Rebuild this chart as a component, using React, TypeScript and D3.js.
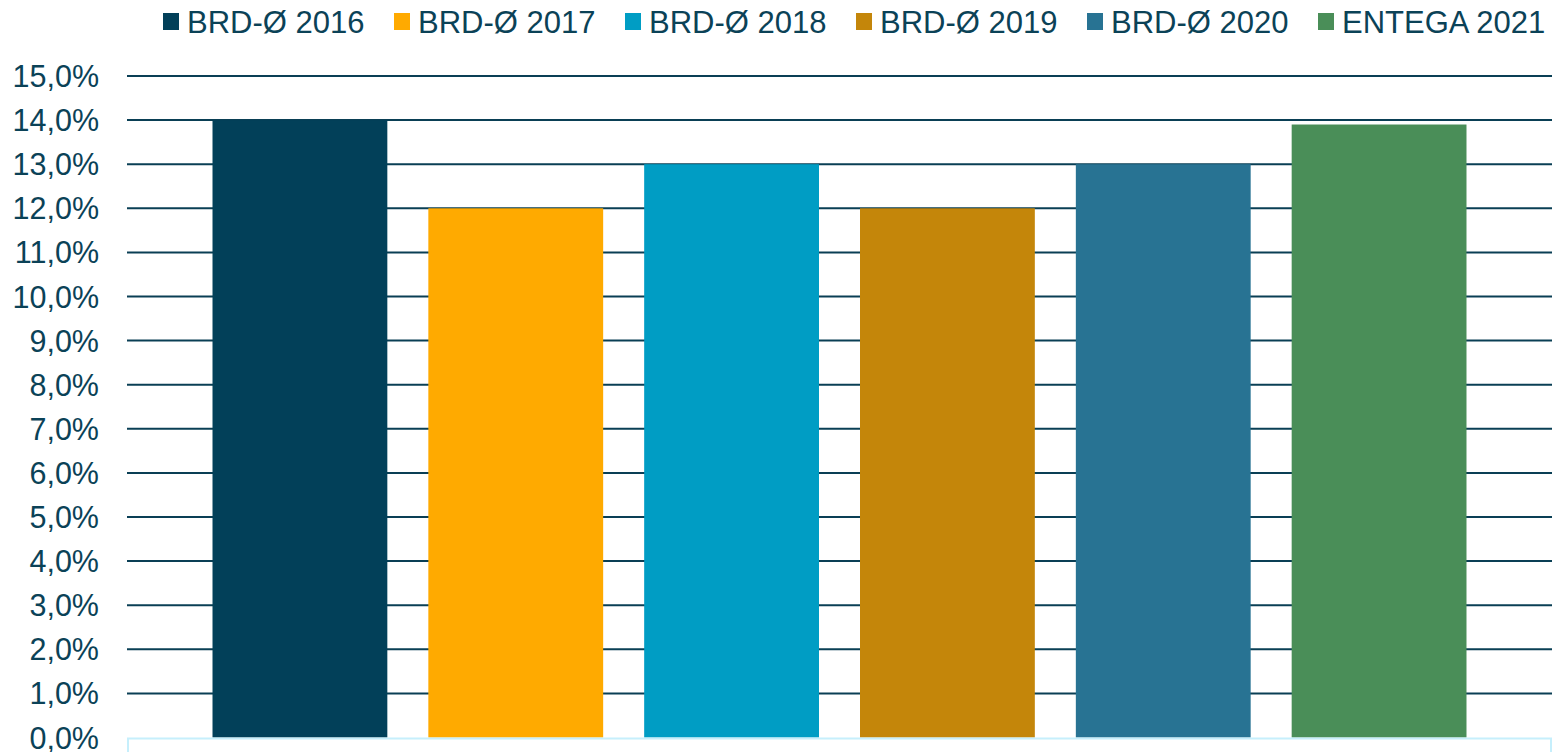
import React from "react";
import * as d3 from "d3";

const seriesNames = ["BRD-Ø 2016", "BRD-Ø 2017", "BRD-Ø 2018", "BRD-Ø 2019", "BRD-Ø 2020", "ENTEGA 2021"];
const seriesValues = [14.0, 12.0, 13.0, 12.0, 13.0, 13.9];
const seriesColors = ["#024059", "#FFAA00", "#009DC4", "#C4860A", "#287393", "#4A8E58"];
const yTicks = d3.range(0, 16, 1);

const W = 1552;
const H = 752;
const textColor = "#0B4257";
const font = "'Liberation Sans', Arial, sans-serif";

export default function App() {
  const y = d3.scaleLinear().domain([0, 15]).range([737.5, 76]);
  const x = d3
    .scaleBand<string>()
    .domain(seriesNames)
    .range([192, 1487])
    .paddingInner(0.19)
    .paddingOuter(0.095);
  const plotLeft = 127;
  const plotRight = 1552;
  const fmt = (v: number) => v.toFixed(1).replace(".", ",") + "%";

  return (
    <div style={{ position: "fixed", left: 0, top: 0 }}>
      <svg width={W} height={H} style={{ display: "block", background: "#fff" }}>
        {/* gridlines */}
        {yTicks.filter((t) => t > 0).map((t) => (
          <line key={"g" + t} x1={plotLeft} x2={plotRight} y1={y(t)} y2={y(t)} stroke="#0A3F55" strokeWidth={2} />
        ))}
        {/* bars */}
        {seriesNames.map((n, i) => (
          <rect
            key={n}
            x={x(n)}
            width={x.bandwidth()}
            y={y(seriesValues[i])}
            height={y(0) - y(seriesValues[i])}
            fill={seriesColors[i]}
          />
        ))}
        {/* x axis */}
        <line x1={plotLeft} x2={plotRight} y1={738.5} y2={738.5} stroke="#C6EFFC" strokeWidth={2} />
        <line x1={plotLeft + 1} x2={plotLeft + 1} y1={738} y2={752} stroke="#C6EFFC" strokeWidth={2} />
        <line x1={plotRight - 1} x2={plotRight - 1} y1={738} y2={752} stroke="#C6EFFC" strokeWidth={2} />
        {/* y tick labels */}
        {yTicks.map((t) => (
          <text
            key={"t" + t}
            x={99}
            y={y(t) + 11}
            textAnchor="end"
            fontFamily={font}
            fontSize={30.5}
            fill={textColor}
          >
            {fmt(t)}
          </text>
        ))}
        {/* legend */}
        {seriesNames.map((n, i) => {
          const lx = 163 + i * 231;
          return (
            <g key={"l" + n}>
              <rect x={lx} y={13} width={16} height={17} fill={seriesColors[i]} />
              <text x={lx + 24} y={33} fontFamily={font} fontSize={31} fill={textColor}>
                {n}
              </text>
            </g>
          );
        })}
      </svg>
    </div>
  );
}
